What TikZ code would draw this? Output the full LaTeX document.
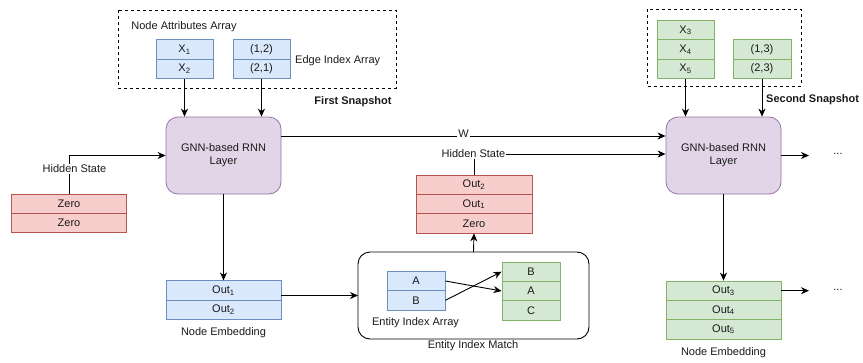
\documentclass[tikz,border=0pt]{standalone}
\usepackage{fontspec}
\setmainfont{Liberation Sans}
\usetikzlibrary{arrows.meta}
\definecolor{bluef}{HTML}{DAE8FC}
\definecolor{blued}{HTML}{6C8EBF}
\definecolor{greenf}{HTML}{D5E8D4}
\definecolor{greend}{HTML}{82B366}
\definecolor{redf}{HTML}{F8CECC}
\definecolor{redd}{HTML}{B85450}
\definecolor{purf}{HTML}{E1D5E7}
\definecolor{purd}{HTML}{9673A6}
\definecolor{txt}{HTML}{1A1A1A}
\begin{document}
\begin{tikzpicture}[x=1pt,y=-1pt,
  font=\fontsize{11}{13}\selectfont, text=txt,
  cell/.style={draw, minimum height=19.3pt, inner sep=0pt, line width=0.8pt},
  bcell/.style={cell, fill=bluef, draw=blued},
  gcell/.style={cell, fill=greenf, draw=greend},
  rcell/.style={cell, fill=redf, draw=redd},
  gnn/.style={draw=purd, fill=purf, line width=0.8pt, rounded corners=12pt,
     minimum width=115pt, minimum height=77pt, align=center, inner sep=0pt},
  snap/.style={draw=black, dashed, line width=0.8pt},
  lab/.style={inner sep=1pt},
  arr/.style={-{Stealth[length=8pt,width=7pt,inset=2.5pt]}, line width=0.9pt, draw=black},
  ln/.style={line width=0.9pt, draw=black}
]
\useasboundingbox (0,0) rectangle (863,362);

% ---------- first snapshot ----------
\draw[snap] (118,10) rectangle (396,88);
\node[lab] (naa) at (184,27) {Node Attributes Array};
\node[bcell, minimum width=57pt] (x1) at (184.5,49.5) {X\textsubscript{1}};
\node[bcell, minimum width=57pt] (x2) at (184.5,68.8) {X\textsubscript{2}};
\node[bcell, minimum width=57pt] (e12) at (261.5,49.5) {(1,2)};
\node[bcell, minimum width=57pt] (e21) at (261.5,68.8) {(2,1)};
\node[lab, anchor=west] (eia) at (294,61) {Edge Index Array};
\node[lab, font=\fontsize{11}{13}\selectfont\bfseries] (fs) at (353,102) {First Snapshot};

\node[gnn] (g1) at (223.5,155.5) {GNN-based RNN\\Layer};

% hidden state 1
\node[rcell, minimum width=115pt] (z1) at (69,203.7) {Zero};
\node[rcell, minimum width=115pt] (z2) at (69,223) {Zero};
\draw[arr] (z1.north) |- (g1.west);
\node[lab, fill=white] (hs1) at (74.5,169) {Hidden State};

% node embedding 1
\node[bcell, minimum width=115pt] (o1) at (223.5,290.5) {Out\textsubscript{1}};
\node[bcell, minimum width=115pt] (o2) at (223.5,309.8) {Out\textsubscript{2}};
\node[lab] (ne1) at (223.5,333) {Node Embedding};
\draw[arr] (g1.south) -- (o1.north);

% entity index match
\draw[ln, rounded corners=12pt] (358,252) rectangle (589,339);
\coordinate (ent) at (473.5,295.5);
\coordinate (entw) at (358,295.5);
\coordinate (entn) at (473.5,252);
\node[bcell, minimum width=58pt] (ea) at (416,281) {A};
\node[bcell, minimum width=58pt] (eb) at (416,300.3) {B};
\node[lab] (eiarr) at (415.5,323) {Entity Index Array};
\node[gcell, minimum width=58pt] (gb) at (531,271.7) {B};
\node[gcell, minimum width=58pt] (ga) at (531,291) {A};
\node[gcell, minimum width=58pt] (gc) at (531,310.3) {C};
\node[lab] (eim) at (473,346) {Entity Index Match};
\draw[arr] (ea.east) -- (ga.west);
\draw[arr] (eb.east) -- (gb.west);
\draw[arr] (entw -| o1.east) -- (entw);

% hidden state 2
\node[rcell, minimum width=116pt] (ro2) at (474,184.7) {Out\textsubscript{2}};
\node[rcell, minimum width=116pt] (ro1) at (474,204) {Out\textsubscript{1}};
\node[rcell, minimum width=116pt] (rz) at (474,223.3) {Zero};
\draw[arr] (entn) -- (rz.south);

% second snapshot
\draw[snap] (647,9) rectangle (801,86);
\node[gcell, minimum width=57pt] (x3) at (685.5,30.2) {X\textsubscript{3}};
\node[gcell, minimum width=57pt] (x4) at (685.5,49.5) {X\textsubscript{4}};
\node[gcell, minimum width=57pt] (x5) at (685.5,68.8) {X\textsubscript{5}};
\node[gcell, minimum width=58pt] (e13) at (762,49.5) {(1,3)};
\node[gcell, minimum width=58pt] (e23) at (762,68.8) {(2,3)};
\node[lab, anchor=west, font=\fontsize{11}{13}\selectfont\bfseries] (ss) at (765,100) {Second Snapshot};

\node[gnn] (g2) at (723.5,155.5) {GNN-based RNN\\Layer};

\draw[arr] (x2.south) -- (x2.south |- g1.north);
\draw[arr] (e21.south) -- (e21.south |- g1.north);
\draw[arr] (x5.south) -- (x5.south |- g2.north);
\draw[arr] (e23.south) -- (e23.south |- g2.north);

% W connection
\draw[arr] ([yshift=19.5pt]g1.east) -- node[lab, fill=white, pos=0.474, yshift=2.5pt] (w) {W} ([yshift=19.5pt]g2.west);

% hidden state 2 connection
\draw[arr] (ro2.north) |- ([yshift=1.5pt]g2.west);
\node[lab, fill=white] (hs2) at (473.5,154) {Hidden State};

% node embedding 2
\node[gcell, minimum width=115pt] (o3) at (723.5,290.7) {Out\textsubscript{3}};
\node[gcell, minimum width=115pt] (o4) at (723.5,310) {Out\textsubscript{4}};
\node[gcell, minimum width=115pt] (o5) at (723.5,329.3) {Out\textsubscript{5}};
\node[lab] (ne2) at (723.5,353) {Node Embedding};
\draw[arr] (g2.south) -- (o3.north);

% continuation
\coordinate (c1) at (809,155.5);
\coordinate (c2) at (809,290.7);
\node[lab] (d1) at (838,154) {...};
\node[lab] (d2) at (838,290) {...};
\draw[arr] (g2.east) -- (c1);
\draw[arr] (o3.east) -- (c2);
\end{tikzpicture}
\end{document}
